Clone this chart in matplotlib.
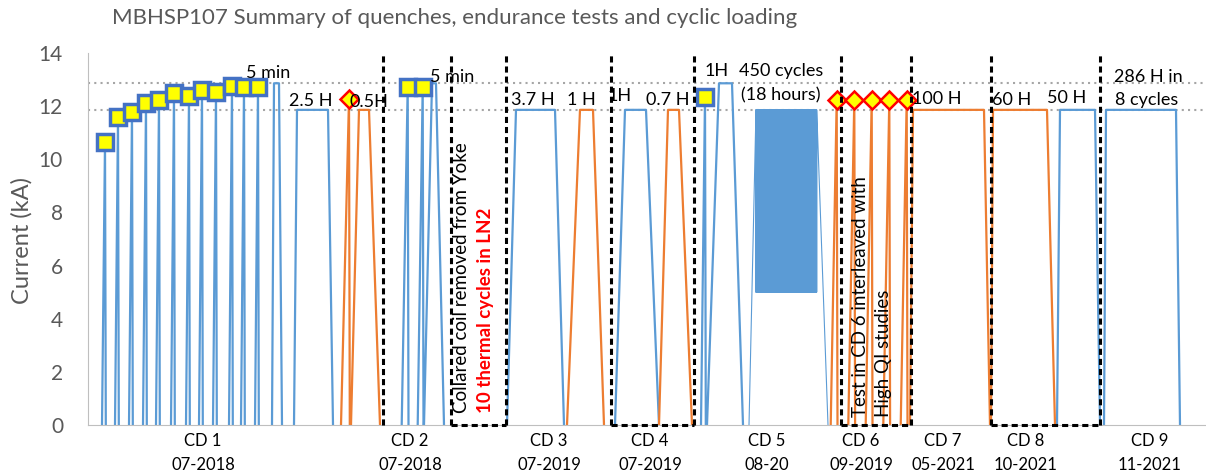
import numpy as np
import matplotlib.pyplot as plt

plt.rcParams['font.family'] = ['Lato', 'DejaVu Sans']

BLUE = '#5B9BD5'
ORANGE = '#ED7D31'
GRAY = '#595959'

# reference current levels (kA)
level_hi = 12.86
level_nom = 11.86

# schematic time line (arbitrary units); quenches: time, current, ramp length
blue_q_t = [105, 118, 132, 146, 159, 174, 189, 202, 216, 232, 244, 258, 407.7, 422.7, 705]
blue_q_I = [10.66, 11.60, 11.79, 12.13, 12.23, 12.49, 12.38, 12.61, 12.52, 12.76, 12.71, 12.73,
            12.73, 12.73, 12.36]
blue_q_ramp = [3, 3, 3, 3, 3, 3, 3, 3, 3, 3, 3, 3, 6, 5, 4]

# flat tops: start, end, current, ramp up, ramp down
blue_f_start = [274, 297, 432, 516, 625, 719, 1060, 1106]
blue_f_end = [279, 328, 436, 555, 646, 732, 1095, 1176]
blue_f_I = [12.86, 11.86, 12.86, 11.86, 11.86, 12.86, 11.86, 11.86]
blue_f_up = [2, 3, 8, 9, 10, 12, 3, 2]
blue_f_down = [3, 5, 8, 9, 13, 11, 5, 4]

orange_q_t = [349, 836.7, 854.3, 871.7, 889.3, 906.7]
orange_q_I = [12.26, 12.23, 12.23, 12.23, 12.23, 12.23]
orange_q_ramp = [8, 6, 6, 6, 6, 6]

orange_f_start = [359, 580, 668, 913, 993]
orange_f_end = [369, 593, 679, 984, 1047]
orange_f_I = [11.86, 11.86, 11.86, 11.86, 11.86]
orange_f_up = [8, 13, 9, 3, 2]
orange_f_down = [11, 11, 13, 6, 8]

# cyclic loading in CD 5: 450 cycles between 5 kA and 11.86 kA
cyc_n = 450
cyc_hi = 11.86
cyc_lo = 5.0
cyc_t = [749, 756, 816.7, 828]   # ramp start, first top, last top, back at zero

# test-campaign separators (dashed) and dashed boxes
sep_x = [383.3, 450.7, 505.7, 610.7, 694.3, 841, 910.5, 990.7, 1100]
box_x = [(450.7, 505.7), (610.7, 694.3), (841, 910.5), (990.7, 1100)]

cd_pos = [203, 410, 549, 650, 767, 861, 943, 1026, 1150]
cd_labels = ['CD 1\n07-2018', 'CD 2\n07-2018', 'CD 3\n07-2019', 'CD 4\n07-2019', 'CD 5\n08-20',
             'CD 6\n09-2019', 'CD 7\n05-2021', 'CD 8\n10-2021', 'CD 9\n11-2021']

notes = ['5 min', '2.5 H', '0.5H', '5 min', '3.7 H', '1 H', '1H', '0.7 H', '1H',
         '450 cycles', '(18 hours)', '100 H', '60 H', '50 H', '286 H in', '8 cycles']
notes_x = [268, 311, 369, 452, 533, 581, 620, 668, 717, 781, 781, 937, 1012, 1067, 1148, 1147]
notes_y = [13.23, 12.19, 12.15, 13.08, 12.23, 12.23, 12.38, 12.23, 13.32, 13.32, 12.42,
           12.27, 12.23, 12.30, 13.10, 12.23]


def build(q_t, q_I, q_ramp, f_s, f_e, f_I, f_up, f_dn):
    t, I = [], []
    for tq, iq, r in zip(q_t, q_I, q_ramp):
        t += [tq - r, tq, tq + 0.8, np.nan]
        I += [0, iq, 0, np.nan]
    for s, e, lv, u, d in zip(f_s, f_e, f_I, f_up, f_dn):
        t += [s - u, s, e, e + d, np.nan]
        I += [0, lv, lv, 0, np.nan]
    return t, I


fig = plt.figure(figsize=(12.06, 4.75), dpi=100)
ax = fig.add_axes([88 / 1206, 50 / 475, 1118 / 1206, 372 / 475])

ax.axhline(level_hi, color='#A6A6A6', lw=1.5, ls=(0, (1, 2)), zorder=1)
ax.axhline(level_nom, color='#A6A6A6', lw=1.5, ls=(0, (1, 2)), zorder=1)

bt, bI = build(blue_q_t, blue_q_I, blue_q_ramp, blue_f_start, blue_f_end, blue_f_I,
               blue_f_up, blue_f_down)
ax.plot(bt, bI, color=BLUE, lw=1.6, zorder=2)

ct = np.concatenate([[cyc_t[0]], np.linspace(cyc_t[1], cyc_t[2], 2 * cyc_n + 1), [cyc_t[3]]])
cI = np.concatenate([[0], np.tile([cyc_hi, cyc_lo], cyc_n), [cyc_hi], [0]])
ax.plot(ct, cI, color=BLUE, lw=0.8, zorder=2)

ot, oI = build(orange_q_t, orange_q_I, orange_q_ramp, orange_f_start, orange_f_end, orange_f_I,
               orange_f_up, orange_f_down)
ax.plot(ot, oI, color=ORANGE, lw=1.6, zorder=2)

ax.plot(blue_q_t, blue_q_I, ls='none', marker='s', ms=11.5, mfc='#FFFF00', mec='#4472C4',
        mew=2.5, zorder=3)
ax.plot(orange_q_t, orange_q_I, ls='none', marker='D', ms=9, mfc='#FFFF00', mec='#FF0000',
        mew=1.8, zorder=3)

ax.vlines(sep_x, 0, 14, colors='black', lw=2.2, linestyles=(0, (2, 1.3)), zorder=4, clip_on=False)
for x0, x1 in box_x:
    ax.plot([x0, x1], [0, 0], color='black', lw=2.2, ls=(0, (2, 1.3)), zorder=4, clip_on=False)

for s, x, y in zip(notes, notes_x, notes_y):
    ax.text(x, y, s, fontsize=13, ha='center', va='center', zorder=5)

ax.text(461.5, 0.45, 'Collared coil removed from Yoke', rotation=90, fontsize=13.5,
        ha='center', va='bottom', zorder=5)
ax.text(485, 0.45, '10 thermal cycles in LN2', rotation=90, fontsize=13.5, color='#FF0000',
        fontweight='bold', ha='center', va='bottom', zorder=5)
ax.text(860, 0.3, 'Test in CD 6 interleaved with', rotation=90, fontsize=13.5,
        ha='center', va='bottom', zorder=5)
ax.text(884, 0.3, 'High QI studies', rotation=90, fontsize=13.5,
        ha='center', va='bottom', zorder=5)

ax.set_xlim(88, 1206)
ax.set_ylim(0, 14)
ax.set_yticks(range(0, 15, 2))
ax.set_xticks(cd_pos)
ax.set_xticklabels(cd_labels, linespacing=1.6)
ax.tick_params(axis='y', length=0, pad=18, labelsize=15, labelcolor=GRAY)
ax.tick_params(axis='x', length=0, pad=6, labelsize=12)
for side in ['top', 'right']:
    ax.spines[side].set_visible(False)
for side in ['left', 'bottom']:
    ax.spines[side].set_color('#BFBFBF')

fig.text(22 / 1206, 1 - 240 / 475, 'Current (kA)', rotation=90, fontsize=17, color=GRAY,
         ha='center', va='center')
fig.text(112 / 1206, 1 - 18 / 475, 'MBHSP107 Summary of quenches, endurance tests and cyclic loading',
         fontsize=16, color=GRAY, ha='left', va='center')

fig.savefig('out.png', dpi=100)
